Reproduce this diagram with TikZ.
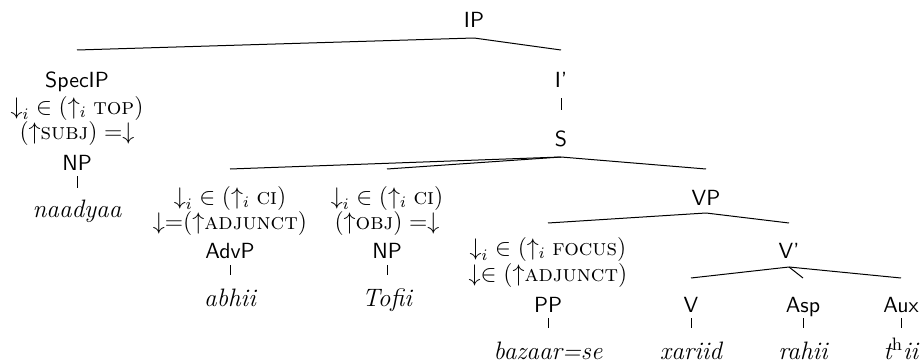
\documentclass[tikz,border=0pt]{standalone}
\usetikzlibrary{calc}
\tikzset{
  lbl/.style={anchor=base, inner sep=0pt, font=\fontsize{11.5}{14}\selectfont},
  cat/.style={anchor=base, inner sep=0pt, font=\fontsize{10.95}{13}\selectfont\sffamily},
  word/.style={anchor=base, inner sep=0pt, font=\fontsize{12.6}{14}\selectfont\itshape},
  edge/.style={line width=0.5pt},
  tick/.style={line width=0.4pt}
}
\begin{document}
\begin{tikzpicture}[x=0.5pt,y=-0.5pt]
\useasboundingbox (0,0) rectangle (923,364);
% level 0
\node[cat] (IP) at (474,27) {IP};
% SpecIP column
\node[cat] (SpecIP) at (77,88) {SpecIP};
\node[lbl] (specA) at (77,114) {${\downarrow}_i \in (\uparrow_i \textsc{top})$};
\node[lbl] (specB) at (77,140) {$({\uparrow}\textsc{subj}) =\downarrow$};
\node[cat] (NPa) at (77,170) {NP};
\node[word] (naadyaa) at (77,217) {naadyaa};
% I' and S
\node[cat] (Ibar) at (561,88) {I'};
\node[cat] (S) at (561,147) {S};
% AdvP column
\node[lbl] (advA) at (230,204) {${\downarrow}_i \in (\uparrow_i \textsc{ci})$};
\node[lbl] (advB) at (230,229) {${\downarrow}{=}({\uparrow}\textsc{adjunct})$};
\node[cat] (AdvP) at (230,258) {AdvP};
\node[word] (abhii) at (230,306) {abhii};
% object NP column
\node[lbl] (objA) at (387,204) {${\downarrow}_i \in (\uparrow_i \textsc{ci})$};
\node[lbl] (objB) at (387,229) {$({\uparrow}\textsc{obj}) =\downarrow$};
\node[cat] (NPb) at (387,258) {NP};
\node[word] (Tofii) at (387,306) {Tofii};
% VP
\node[cat] (VP) at (706,205) {VP};
% PP column
\node[lbl] (ppA) at (548,255) {${\downarrow}_i \in (\uparrow_i \textsc{focus})$};
\node[lbl] (ppB) at (548,281) {$\downarrow\in ({\uparrow}\textsc{adjunct})$};
\node[cat] (PP) at (548,312) {PP};
\node[word] (bazaar) at (548,359) {bazaar=se};
% V'
\node[cat] (Vbar) at (789,258) {V'};
\node[cat] (V) at (691,312) {V};
\node[word] (xariid) at (691,359) {xariid};
\node[cat] (Asp) at (803,312) {Asp};
\node[word] (rahii) at (803,359) {rahii};
\node[cat] (Aux) at (901,312) {Aux};
\node[word] (thii) at (901,359) {t$^{\mathrm{h}}$ii};
% edges
\draw[edge] ($(IP.base)+(0,11)$) -- ($(SpecIP.base)+(0,-38)$);
\draw[edge] ($(IP.base)+(0,11)$) -- ($(Ibar.base)+(0,-38)$);
\draw[tick] ($(Ibar.base)+(0,10)$) -- ($(S.base)+(0,-37)$);
\draw[edge] ($(S.base)+(0,10)$) -- ($(advA.base)+(0,-35)$);
\draw[edge] ($(S.base)+(0,10)$) -- ($(objA.base)+(0,-35)$);
\draw[edge] ($(S.base)+(0,10)$) -- ($(VP.base)+(0,-36)$);
\draw[edge] ($(VP.base)+(0,8)$) -- ($(ppA.base)+(0,-32)$);
\draw[edge] ($(VP.base)+(0,8)$) -- ($(Vbar.base)+(0,-35)$);
\draw[edge] ($(Vbar.base)+(0,9)$) -- ($(V.base)+(0,-34)$);
\draw[edge] ($(Vbar.base)+(0,9)$) -- ($(Asp.base)+(0,-34)$);
\draw[edge] ($(Vbar.base)+(0,9)$) -- ($(Aux.base)+(0,-34)$);
\draw[tick] ($(NPa.base)+(0,6)$) -- ($(naadyaa.base)+(0,-29)$);
\draw[tick] ($(AdvP.base)+(0,7)$) -- ($(abhii.base)+(0,-31)$);
\draw[tick] ($(NPb.base)+(0,7)$) -- ($(Tofii.base)+(0,-31)$);
\draw[tick] ($(PP.base)+(0,6)$) -- ($(bazaar.base)+(0,-31)$);
\draw[tick] ($(V.base)+(0,6)$) -- ($(xariid.base)+(0,-31)$);
\draw[tick] ($(Asp.base)+(0,6)$) -- ($(rahii.base)+(0,-31)$);
\draw[tick] ($(Aux.base)+(0,6)$) -- ($(thii.base)+(0,-31)$);
\end{tikzpicture}
\end{document}
